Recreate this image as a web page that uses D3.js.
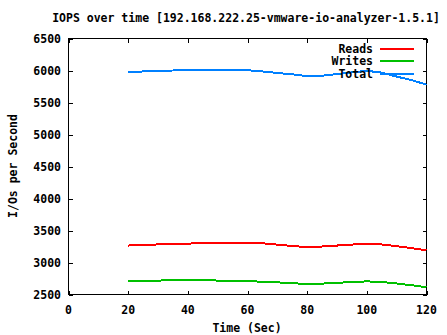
<!DOCTYPE html>
<html><head><meta charset="utf-8">
<script src="https://cdn.jsdelivr.net/npm/d3@7"></script>
<style>
html,body{margin:0;padding:0;background:#fff;}
text{font-family:"DejaVu Sans Mono",monospace;font-weight:bold;font-size:11.5px;fill:#000;}
</style></head>
<body><svg id="c" width="447" height="335"></svg>
<script>
const title = "IOPS over time [192.168.222.25-vmware-io-analyzer-1.5.1]";
const xLabel = "Time (Sec)";
const yLabel = "I/Os per Second";
const xTicks = [0,20,40,60,80,100,120];
const yTicks = [2500,3000,3500,4000,4500,5000,5500,6000,6500];
const times  = [20,25,30,35,40,45,50,55,60,65,70,75,80,85,90,95,100,105,110,115,120];
const reads  = [3265,3275,3282,3290,3296,3300,3305,3312,3312,3300,3280,3258,3240,3250,3265,3280,3292,3282,3255,3225,3190];
const writes = [2705,2712,2718,2722,2724,2723,2718,2712,2708,2700,2690,2676,2665,2670,2682,2695,2705,2695,2672,2645,2612];
const total  = [5972,5985,5992,6000,6005,6005,6006,6006,6004,5985,5962,5940,5912,5918,5945,5970,5995,5967,5905,5850,5780];
const seriesNames = ["Reads","Writes","Total"];
const seriesColors = ["#ff0000","#00c000","#0080ff"];
const seriesData = [reads, writes, total];

const svg = d3.select("#c");
const L=68.5, R=426.5, T=38.5, B=294.5;
const x = d3.scaleLinear().domain([0,120]).range([L,R]);
const y = d3.scaleLinear().domain([2500,6500]).range([B,T]);

// frame
svg.append("rect").attr("x",L).attr("y",T).attr("width",R-L).attr("height",B-T)
  .attr("fill","none").attr("stroke","#000").attr("stroke-width",1).attr("shape-rendering","crispEdges");

// axes (ticks inward, mirrored)
const ax = svg.append("g").attr("shape-rendering","crispEdges").attr("stroke","#000");
xTicks.forEach(t=>{
  const px=Math.round(x(t))+0.5;
  ax.append("line").attr("x1",px).attr("x2",px).attr("y1",B).attr("y2",B-4);
  ax.append("line").attr("x1",px).attr("x2",px).attr("y1",T).attr("y2",T+4);
});
yTicks.forEach(t=>{
  const py=Math.round(y(t))+0.5;
  ax.append("line").attr("y1",py).attr("y2",py).attr("x1",L).attr("x2",L+4);
  ax.append("line").attr("y1",py).attr("y2",py).attr("x1",R).attr("x2",R-4);
});
svg.append("g").selectAll("text").data(xTicks).join("text")
  .attr("x",d=>x(d)).attr("y",314).attr("text-anchor","middle").text(d=>d);
svg.append("g").selectAll("text").data(yTicks).join("text")
  .attr("x",61).attr("y",d=>y(d)+4).attr("text-anchor","end").text(d=>d);

svg.append("text").attr("x",246).attr("y",21.5).attr("text-anchor","middle").text(title);
svg.append("text").attr("x",247).attr("y",332).attr("text-anchor","middle").text(xLabel);
svg.append("text").attr("transform","translate(17,166) rotate(-90)").attr("text-anchor","middle").text(yLabel);

// series
const line = d3.line().x((d,i)=>x(times[i])).y(d=>y(d));
seriesData.forEach((s,k)=>{
  svg.append("path").datum(s).attr("d",line).attr("fill","none")
    .attr("stroke",seriesColors[k]).attr("stroke-width",2).attr("shape-rendering","crispEdges");
});

// legend
seriesNames.forEach((n,k)=>{
  const ly=48.5+k*12.5;
  svg.append("text").attr("x",373).attr("y",ly+4).attr("text-anchor","end").text(n);
  svg.append("line").attr("x1",380).attr("x2",414).attr("y1",ly).attr("y2",ly)
    .attr("stroke",seriesColors[k]).attr("stroke-width",2).attr("shape-rendering","crispEdges");
});
</script></body></html>
